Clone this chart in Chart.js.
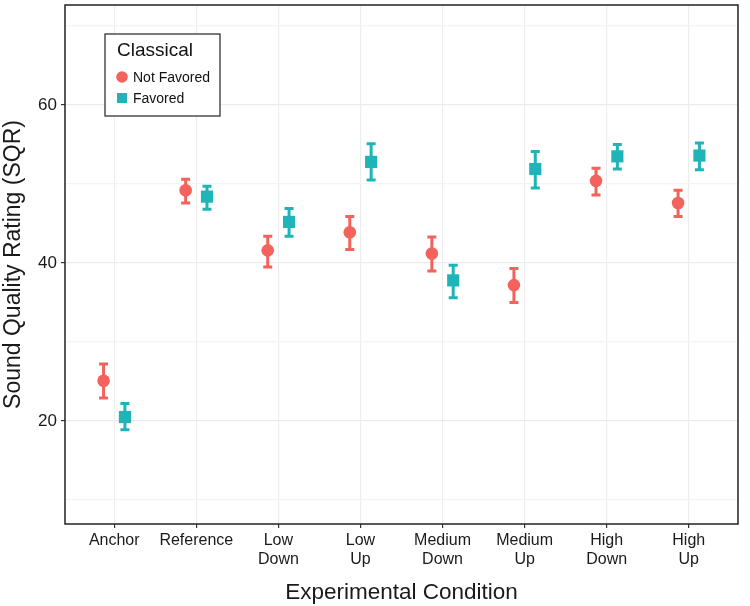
<!DOCTYPE html>
<html>
<head>
<meta charset="utf-8">
<script src="https://cdn.jsdelivr.net/npm/chart.js@4"></script>
<style>
    body { margin: 0; background: #fff; }
    #wrap { width: 750px; height: 606px; }
</style>
</head>
<body>
<div id="wrap"><canvas id="chart" width="750" height="606"></canvas></div>
<script>
// categories on the x axis (multi-line labels)
const categories = [['Anchor'], ['Reference'], ['Low', 'Down'], ['Low', 'Up'], ['Medium', 'Down'], ['Medium', 'Up'], ['High', 'Down'], ['High', 'Up']];

// Not Favored: mean and error bar ends
const notFavoredMean = [25.1, 49.2, 41.6, 43.9, 41.2, 37.2, 50.4, 47.6];
const notFavoredLow = [22.9, 47.6, 39.5, 41.7, 39.0, 35.0, 48.6, 45.9];
const notFavoredHigh = [27.2, 50.6, 43.4, 45.9, 43.3, 39.3, 52.0, 49.2];

// Favored: mean and error bar ends
const favoredMean = [20.5, 48.4, 45.2, 52.8, 37.8, 51.9, 53.5, 53.6];
const favoredLow = [18.9, 46.8, 43.4, 50.5, 35.6, 49.5, 51.9, 51.8];
const favoredHigh = [22.2, 49.7, 46.9, 55.1, 39.7, 54.1, 55.0, 55.2];

// y ticks (major ones get a label)
const yTickValues = [10, 20, 30, 40, 50, 60, 70];
const yTickLabels = ['', '20', '', '40', '', '60', ''];

const legendTitle = 'Classical';
const seriesNames = ['Not Favored', 'Favored'];

const RED = '#F3625C';
const TEAL = '#1FB5B8';
const FONT = '"Liberation Sans", Arial, sans-serif';
const DODGE = 0.13;

function buildPoints(mean, low, high, shift) {
    return mean.map((m, i) => ({ x: i + shift, y: m, low: low[i], high: high[i] }));
}

const errorBars = {
    id: 'errorBars',
    beforeDatasetsDraw(chart) {
        let ctx = chart.ctx;
        let x = chart.scales.x;
        let y = chart.scales.y;
        chart.data.datasets.forEach(ds => {
            ctx.save();
            ctx.strokeStyle = ds.backgroundColor;
            ctx.lineWidth = 3;
            ds.data.forEach(p => {
                let px = x.getPixelForValue(p.x);
                let top = y.getPixelForValue(p.high);
                let bot = y.getPixelForValue(p.low);
                ctx.beginPath();
                ctx.moveTo(px, top);
                ctx.lineTo(px, bot);
                ctx.moveTo(px - 4.5, top);
                ctx.lineTo(px + 4.5, top);
                ctx.moveTo(px - 4.5, bot);
                ctx.lineTo(px + 4.5, bot);
                ctx.stroke();
            });
            ctx.restore();
        });
    }
};

const frameAndLegend = {
    id: 'frameAndLegend',
    afterDraw(chart) {
        let ctx = chart.ctx;
        let a = chart.chartArea;
        ctx.save();
        ctx.strokeStyle = '#222';
        ctx.lineWidth = 1.5;
        ctx.strokeRect(a.left, a.top, a.right - a.left, a.bottom - a.top);

        // legend box inside the plot
        let lx = a.left + 40;
        let ly = a.top + 29;
        ctx.fillStyle = '#fff';
        ctx.fillRect(lx, ly, 115, 82);
        ctx.lineWidth = 1.2;
        ctx.strokeRect(lx, ly, 115, 82);

        ctx.fillStyle = '#111';
        ctx.textBaseline = 'middle';
        ctx.font = '19px ' + FONT;
        ctx.fillText(legendTitle, lx + 12, ly + 17);

        ctx.font = '14px ' + FONT;
        ctx.fillStyle = RED;
        ctx.beginPath();
        ctx.arc(lx + 17, ly + 43, 5.8, 0, Math.PI * 2);
        ctx.fill();
        ctx.fillStyle = TEAL;
        ctx.fillRect(lx + 12, ly + 59, 10, 10);

        ctx.fillStyle = '#111';
        ctx.fillText(seriesNames[0], lx + 28, ly + 44);
        ctx.fillText(seriesNames[1], lx + 28, ly + 65);
        ctx.restore();
    }
};

new Chart(document.getElementById('chart'), {
    type: 'scatter',
    data: {
        datasets: [
            {
                label: seriesNames[0],
                data: buildPoints(notFavoredMean, notFavoredLow, notFavoredHigh, -DODGE),
                backgroundColor: RED,
                borderColor: RED,
                pointStyle: 'circle',
                pointRadius: 6.3,
                borderWidth: 0
            },
            {
                label: seriesNames[1],
                data: buildPoints(favoredMean, favoredLow, favoredHigh, DODGE),
                backgroundColor: TEAL,
                borderColor: TEAL,
                pointStyle: 'rect',
                pointRadius: 8.6,
                borderWidth: 0
            }
        ]
    },
    options: {
        responsive: false,
        animation: false,
        layout: {
            autoPadding: false,
            padding: { top: 5, right: 12, left: 0, bottom: 0 }
        },
        plugins: {
            legend: { display: false },
            tooltip: { enabled: false }
        },
        scales: {
            x: {
                type: 'linear',
                min: -0.6,
                max: 7.6,
                afterFit: s => {
                    s.height = 82;
                    s.paddingLeft = 0;
                    s.paddingRight = 0;
                },
                afterBuildTicks: axis => {
                    axis.ticks = categories.map((c, i) => ({ value: i }));
                },
                ticks: {
                    autoSkip: false,
                    maxRotation: 0,
                    color: '#1a1a1a',
                    font: { family: FONT, size: 16 },
                    padding: 3,
                    callback: v => categories[v]
                },
                grid: {
                    color: '#EDEDED',
                    lineWidth: 1.2,
                    tickColor: '#333',
                    tickLength: 4
                },
                border: { display: false },
                title: {
                    display: true,
                    text: 'Experimental Condition',
                    color: '#1a1a1a',
                    font: { family: FONT, size: 22.5 },
                    padding: { top: 6, bottom: 0 }
                }
            },
            y: {
                min: 6.96,
                max: 72.66,
                afterFit: s => {
                    s.width = 65;
                    s.paddingTop = 0;
                    s.paddingBottom = 0;
                },
                afterBuildTicks: axis => {
                    axis.ticks = yTickValues.map(v => ({ value: v }));
                },
                ticks: {
                    color: '#1a1a1a',
                    font: { family: FONT, size: 17 },
                    padding: 4,
                    callback: (v, i) => yTickLabels[i]
                },
                grid: {
                    color: ctx => (ctx.index % 2 === 1 ? '#EBEBEB' : '#F4F4F4'),
                    lineWidth: 1.2,
                    tickColor: ctx => (ctx.index % 2 === 1 ? '#333' : 'rgba(0,0,0,0)'),
                    tickLength: 4
                },
                border: { display: false },
                title: {
                    display: true,
                    text: 'Sound Quality Rating (SQR)',
                    color: '#1a1a1a',
                    font: { family: FONT, size: 23 },
                    padding: { top: 0, bottom: 3 }
                }
            }
        }
    },
    plugins: [errorBars, frameAndLegend]
});
</script>
</body>
</html>
